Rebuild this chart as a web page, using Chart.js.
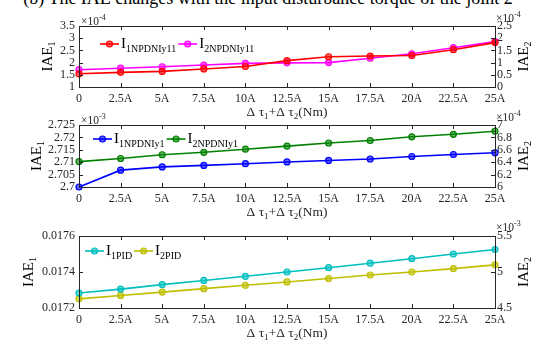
<!DOCTYPE html>
<html>
<head>
<meta charset="utf-8">
<script src="https://cdn.jsdelivr.net/npm/chart.js@4.4.1/dist/chart.umd.min.js"></script>
<style>
  body { margin: 0; width: 540px; height: 345px; overflow: hidden; position: relative; background: #fff; font-family: "Liberation Serif", "Times New Roman", serif; }
  #title { position: absolute; left: 0; top: -11px; width: 536px; text-align: center; font-size: 18px; line-height: 18px; color: #000; white-space: nowrap; }
  canvas { position: absolute; left: 0; top: 0; }
</style>
</head>
<body>
<div id="title">(b) The IAE changes with the input disturbance torque of the joint 2</div>
<canvas id="panel1" width="540" height="345"></canvas>
<canvas id="panel2" width="540" height="345"></canvas>
<canvas id="panel3" width="540" height="345"></canvas>
<script>
// disturbance torque steps on the x axis
const torqueLabels = ['0', '2.5A', '5A', '7.5A', '10A', '12.5A', '15A', '17.5A', '20A', '22.5A', '25A'];

// NPDNIy11 controller (both in units of 1e-4)
const iae1Npdn11 = [1.54, 1.60, 1.64, 1.74, 1.84, 2.08, 2.24, 2.27, 2.29, 2.53, 2.82];
const iae2Npdn11 = [0.71, 0.77, 0.83, 0.90, 0.97, 0.99, 1.00, 1.18, 1.36, 1.61, 1.86];

// NPDNIy1 controller (joint 1 in 1e-3, joint 2 in 1e-4)
const iae1Npdn1 = [2.7000, 2.7068, 2.7081, 2.7087, 2.7094, 2.7101, 2.7107, 2.7113, 2.7123, 2.7131, 2.7138];
const iae2Npdn1 = [6.41, 6.46, 6.52, 6.56, 6.61, 6.66, 6.71, 6.75, 6.81, 6.85, 6.90];

// PID controller (joint 1 plain, joint 2 in 1e-3)
const iae1Pid = [0.017283, 0.017305, 0.017330, 0.017353, 0.017376, 0.017400, 0.017424, 0.017449, 0.017474, 0.017500, 0.017525];
const iae2Pid = [4.627, 4.674, 4.721, 4.769, 4.816, 4.862, 4.910, 4.958, 5.000, 5.047, 5.099];

const AXIS = '#262626';
const SERIF = '"Liberation Serif", "Times New Roman", serif';
const TICK = 4;
const X_AXIS_H = 32;

// draw a run of text pieces [text, size, dy] left to right from x
function richWidth(ctx, parts) {
  let w = 0;
  parts.forEach(([t, size]) => { ctx.font = size + 'px ' + SERIF; w += ctx.measureText(t).width; });
  return w;
}
function drawRich(ctx, parts, x, y, align) {
  let cx = align === 'center' ? x - richWidth(ctx, parts) / 2 : x;
  ctx.textAlign = 'left';
  ctx.textBaseline = 'alphabetic';
  parts.forEach(([t, size, dy]) => {
    ctx.font = size + 'px ' + SERIF;
    ctx.fillText(t, cx, y + (dy || 0));
    cx += ctx.measureText(t).width;
  });
  return cx;
}

const matlabAxes = {
  id: 'matlabAxes',
  afterDatasetsDraw(chart, args, opts) {
    // legend inside the axes, white box over the lines
    const ctx = chart.ctx;
    const lg = opts.legend;
    ctx.save();
    let w = 0;
    chart.data.datasets.forEach(ds => { w += 21 + richWidth(ctx, [['I', 15], [ds.sub, 10]]) + 2; });
    ctx.fillStyle = '#fff';
    ctx.fillRect(lg.x - 6, lg.y - 10, w + 8, 20);
    let x = lg.x;
    chart.data.datasets.forEach(ds => {
      ctx.strokeStyle = ds.borderColor;
      ctx.lineWidth = ds.borderWidth;
      ctx.beginPath();
      ctx.moveTo(x, lg.y);
      ctx.lineTo(x + 19, lg.y);
      ctx.stroke();
      ctx.beginPath();
      ctx.arc(x + 9.5, lg.y, ds.pointRadius, 0, Math.PI * 2);
      ctx.fillStyle = ds.pointBackgroundColor;
      ctx.fill();
      ctx.lineWidth = ds.pointBorderWidth;
      ctx.stroke();
      ctx.fillStyle = '#000';
      x = drawRich(ctx, [['I', 15, 4], [ds.sub, 10, 8]], x + 21, lg.y) + 2;
    });
    ctx.restore();
  },
  afterDraw(chart, args, opts) {
    const ctx = chart.ctx;
    const a = chart.chartArea;
    const { x, y, y2 } = chart.scales;
    ctx.save();
    ctx.strokeStyle = AXIS;
    ctx.lineWidth = 1;
    ctx.strokeRect(Math.round(a.left) + 0.5, Math.round(a.top) + 0.5,
      Math.round(a.right - a.left), Math.round(a.bottom - a.top));

    // inward tick marks on all four sides
    ctx.beginPath();
    x.ticks.forEach((t, i) => {
      const px = Math.round(x.getPixelForTick(i)) + 0.5;
      ctx.moveTo(px, a.bottom); ctx.lineTo(px, a.bottom - TICK);
      ctx.moveTo(px, a.top); ctx.lineTo(px, a.top + TICK);
    });
    y.ticks.forEach(t => {
      const py = Math.round(y.getPixelForValue(t.value)) + 0.5;
      ctx.moveTo(a.left, py); ctx.lineTo(a.left + TICK, py);
    });
    y2.ticks.forEach(t => {
      const py = Math.round(y2.getPixelForValue(t.value)) + 0.5;
      ctx.moveTo(a.right, py); ctx.lineTo(a.right - TICK, py);
    });
    ctx.stroke();

    ctx.fillStyle = AXIS;
    // exponent labels
    if (opts.expLeft) drawRich(ctx, [['×10', 11.5, 0], [opts.expLeft, 8, -5]], a.left + 2, a.top - 1);
    if (opts.expRight) drawRich(ctx, [['×10', 11.5, 0], [opts.expRight, 8, -5]], a.right + 1, a.top - opts.expRightLift);

    // x axis title
    drawRich(ctx, [['Δ τ', 13.5], ['1', 9, 3], ['+Δ τ', 13.5], ['2', 9, 3], ['(Nm)', 13.5]],
      (a.left + a.right) / 2, a.bottom + 29, 'center');

    // rotated y axis titles
    const cy = (a.top + a.bottom) / 2;
    [[opts.titleLeftX, '1'], [528, '2']].forEach(([bx, n]) => {
      ctx.save();
      ctx.translate(bx, cy);
      ctx.rotate(-Math.PI / 2);
      ctx.fillStyle = '#000';
      drawRich(ctx, [['IAE', 15, 0], [n, 10, 3]], 0, 0, 'center');
      ctx.restore();
    });
    ctx.restore();
  }
};

function series(label, sub, data, color, axis) {
  return {
    label, sub, data, yAxisID: axis,
    borderColor: color, borderWidth: 1.6,
    pointRadius: 3, pointBorderWidth: 1.2,
    pointBackgroundColor: color + '99', pointBorderColor: color,
    tension: 0, clip: false
  };
}

function yScale(pos, min, max, step, digits, width) {
  return {
    position: pos, min, max,
    grid: { display: false, drawTicks: false }, border: { display: false },
    ticks: {
      stepSize: step, autoSkip: false, padding: pos === 'left' ? 4 : 2,
      color: AXIS, font: { family: SERIF, size: 12 },
      callback: v => String(+v.toFixed(digits))
    },
    afterFit: s => { s.width = width; }
  };
}

function makePanel(id, p) {
  return new Chart(document.getElementById(id), {
    type: 'line',
    data: { labels: torqueLabels, datasets: p.datasets },
    options: {
      responsive: false,
      animation: false,
      events: [],
      layout: { padding: { top: p.top, bottom: 345 - p.bottom - X_AXIS_H, left: 0, right: 0 } },
      plugins: {
        legend: { display: false },
        tooltip: { enabled: false },
        matlabAxes: p.axes
      },
      scales: {
        x: {
          type: 'category', offset: false,
          grid: { display: false, drawTicks: false }, border: { display: false },
          ticks: { color: AXIS, font: { family: SERIF, size: 12 }, padding: 5, maxRotation: 0, autoSkip: false },
          afterFit: s => { s.height = X_AXIS_H; }
        },
        y: yScale('left', p.left[0], p.left[1], p.left[2], p.left[3], 79),
        y2: yScale('right', p.right[0], p.right[1], p.right[2], p.right[3], 45)
      }
    },
    plugins: [matlabAxes]
  });
}

makePanel('panel1', {
  top: 26, bottom: 87,
  left: [1, 3.5, 0.5, 2], right: [0, 2.5, 0.5, 2],
  datasets: [
    series('I1NPDNIy11', '1NPDNIy11', iae1Npdn11, '#ff0000', 'y'),
    series('I2NPDNIy11', '2NPDNIy11', iae2Npdn11, '#ff00ff', 'y2')
  ],
  axes: { legend: { x: 100, y: 44 }, expLeft: '-4', expRight: '-4', expRightLift: 4, titleLeftX: 52 }
});

makePanel('panel2', {
  top: 125, bottom: 187,
  left: [2.7, 2.725, 0.005, 3], right: [6, 7, 0.2, 2],
  datasets: [
    series('I1NPDNIy1', '1NPDNIy1', iae1Npdn1, '#0000ff', 'y'),
    series('I2NPDNIy1', '2NPDNIy1', iae2Npdn1, '#008000', 'y2')
  ],
  axes: { legend: { x: 93, y: 139 }, expLeft: '-3', expRight: '-4', expRightLift: 4, titleLeftX: 41 }
});

makePanel('panel3', {
  top: 236, bottom: 308,
  left: [0.0172, 0.0176, 0.0002, 4], right: [4.5, 5.5, 0.5, 1],
  datasets: [
    series('I1PID', '1PID', iae1Pid, '#00bfbf', 'y'),
    series('I2PID', '2PID', iae2Pid, '#bfbf00', 'y2')
  ],
  axes: { legend: { x: 85, y: 251 }, expLeft: null, expRight: '-3', expRightLift: 5, titleLeftX: 33 }
});
</script>
</body>
</html>
